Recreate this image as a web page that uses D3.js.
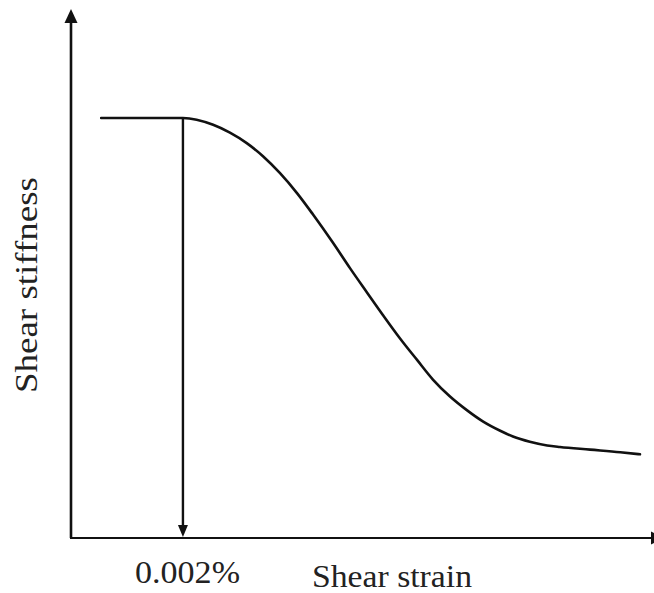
<!DOCTYPE html>
<html>
<head>
<meta charset="utf-8">
<script src="https://cdn.jsdelivr.net/npm/d3@7"></script>
<style>
  html, body { margin: 0; padding: 0; background: #fff; }
  svg { display: block; }
  text { font-family: "Liberation Serif", "Times New Roman", serif; fill: #222; }
</style>
</head>
<body>
<svg id="chart" width="654" height="593"></svg>
<script>
// Shear stiffness degradation curve (arbitrary units)
const strain = [0.52, 1.93, 2.45, 2.74, 3.03, 3.31, 3.60, 3.90, 4.17, 4.52, 4.81, 5.10, 5.38,
                5.67, 5.97, 6.24, 6.53, 6.83, 7.10, 7.40, 7.62, 7.91, 8.21, 8.43, 8.95, 9.47, 9.81];
const stiffness = [8.03, 8.03, 7.90, 7.75, 7.55, 7.30, 6.98, 6.59, 6.19, 5.64, 5.16, 4.70, 4.26,
                   3.82, 3.40, 3.03, 2.71, 2.44, 2.23, 2.05, 1.94, 1.84, 1.77, 1.74, 1.69, 1.64, 1.60];

// Threshold strain marker
const thresholdStrain = 1.93;
const thresholdLabel = "0.002%";
const xTitle = "Shear strain";
const yTitle = "Shear stiffness";

const svg = d3.select("#chart");
const x = d3.scaleLinear().domain([0, 10]).range([71, 651]);
const y = d3.scaleLinear().domain([0, 10]).range([538, 15]);

const stroke = "#111";

// Axes with arrowheads
svg.append("line")
  .attr("x1", x(0)).attr("y1", y(0))
  .attr("x2", x(0)).attr("y2", y(10) + 5)
  .attr("stroke", stroke).attr("stroke-width", 2.6);
svg.append("path")
  .attr("d", d3.line()([[x(0) - 6.5, 23], [x(0) + 6.5, 23], [x(0), 9]]) + "Z")
  .attr("fill", stroke);

svg.append("line")
  .attr("x1", x(0) - 1).attr("y1", y(0))
  .attr("x2", 652).attr("y2", y(0))
  .attr("stroke", stroke).attr("stroke-width", 2.2);
svg.append("path")
  .attr("d", d3.line()([[651, y(0) - 6.5], [651, y(0) + 6.5], [665, y(0)]]) + "Z")
  .attr("fill", stroke);

// Stiffness curve
const pts = strain.map((s, i) => [s, stiffness[i]]);
svg.append("path")
  .datum(pts)
  .attr("fill", "none")
  .attr("stroke", stroke)
  .attr("stroke-width", 2.6)
  .attr("stroke-linecap", "round")
  .attr("stroke-linejoin", "round")
  .attr("d", d3.line().x(d => x(d[0])).y(d => y(d[1])).curve(d3.curveMonotoneX));

// Vertical marker with arrow down to the strain axis
const topY = y(stiffness[strain.indexOf(thresholdStrain)]);
svg.append("line")
  .attr("x1", x(thresholdStrain)).attr("y1", topY)
  .attr("x2", x(thresholdStrain)).attr("y2", y(0) - 10)
  .attr("stroke", stroke).attr("stroke-width", 2.4);
svg.append("path")
  .attr("d", d3.line()([[x(thresholdStrain) - 5, y(0) - 13], [x(thresholdStrain) + 5, y(0) - 13], [x(thresholdStrain), y(0) - 1]]) + "Z")
  .attr("fill", stroke);

// Labels
svg.append("text")
  .attr("x", 135).attr("y", 583)
  .attr("font-size", 32)
  .attr("textLength", 105).attr("lengthAdjust", "spacingAndGlyphs")
  .text(thresholdLabel);

svg.append("text")
  .attr("x", 312).attr("y", 587)
  .attr("font-size", 32)
  .attr("textLength", 160).attr("lengthAdjust", "spacingAndGlyphs")
  .text(xTitle);

svg.append("text")
  .attr("transform", "translate(37,393) rotate(-90)")
  .attr("font-size", 31)
  .attr("textLength", 216).attr("lengthAdjust", "spacingAndGlyphs")
  .text(yTitle);
</script>
</body>
</html>
